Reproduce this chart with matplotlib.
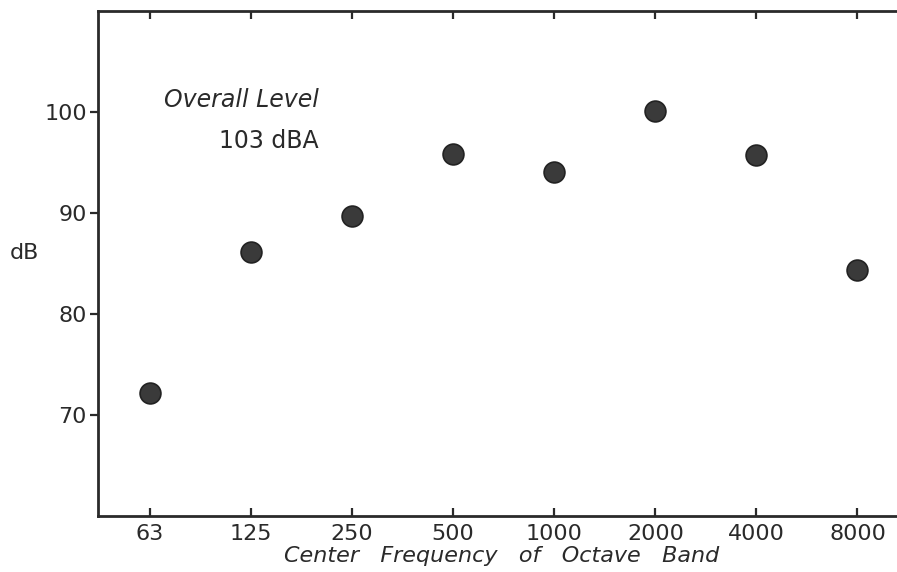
import matplotlib.pyplot as plt
import numpy as np

# octave band levels
bands = ["63", "125", "250", "500", "1000", "2000", "4000", "8000"]
levels_db = [72.2, 86.1, 89.7, 95.8, 94.1, 100.1, 95.7, 84.4]
y_ticks = [70, 80, 90, 100]

ink = "#2a2a2a"

fig = plt.figure(figsize=(8.97, 5.72), dpi=100)
# right spine sits just past the edge of the picture, as in the scan
ax = fig.add_axes([98 / 897, 1 - 516 / 572, 807 / 897, 505 / 572])

x = np.arange(len(bands))
ax.plot(x, levels_db, "o", ms=15, color="#3a3a3a", mec="#222222", mew=1.2)

ax.set_xlim(-0.514, 7.47)
ax.set_ylim(60, 110)

ax.set_xticks(x)
ax.set_xticklabels(bands)
ax.set_yticks(y_ticks)
ax.tick_params(axis="x", direction="in", top=True, length=6, width=1.6,
               labelsize=16, colors=ink, pad=6)
ax.tick_params(axis="y", direction="out", length=6, width=1.6,
               labelsize=16, colors=ink, pad=2)
for s in ax.spines.values():
    s.set_linewidth(2)
    s.set_color(ink)

ax.set_xlabel("Center   Frequency   of   Octave   Band", fontsize=16,
              style="italic", color=ink, labelpad=1)
fig.text(10 / 897, 1 - 253 / 572, "dB", fontsize=16, color=ink,
         ha="left", va="center")

ax.text(1.67, 101.2, "Overall Level", fontsize=17, style="italic",
        color=ink, ha="right", va="center")
ax.text(1.67, 97.1, "103 dBA", fontsize=17, color=ink,
        ha="right", va="center")

fig.savefig("out.png", dpi=100)
